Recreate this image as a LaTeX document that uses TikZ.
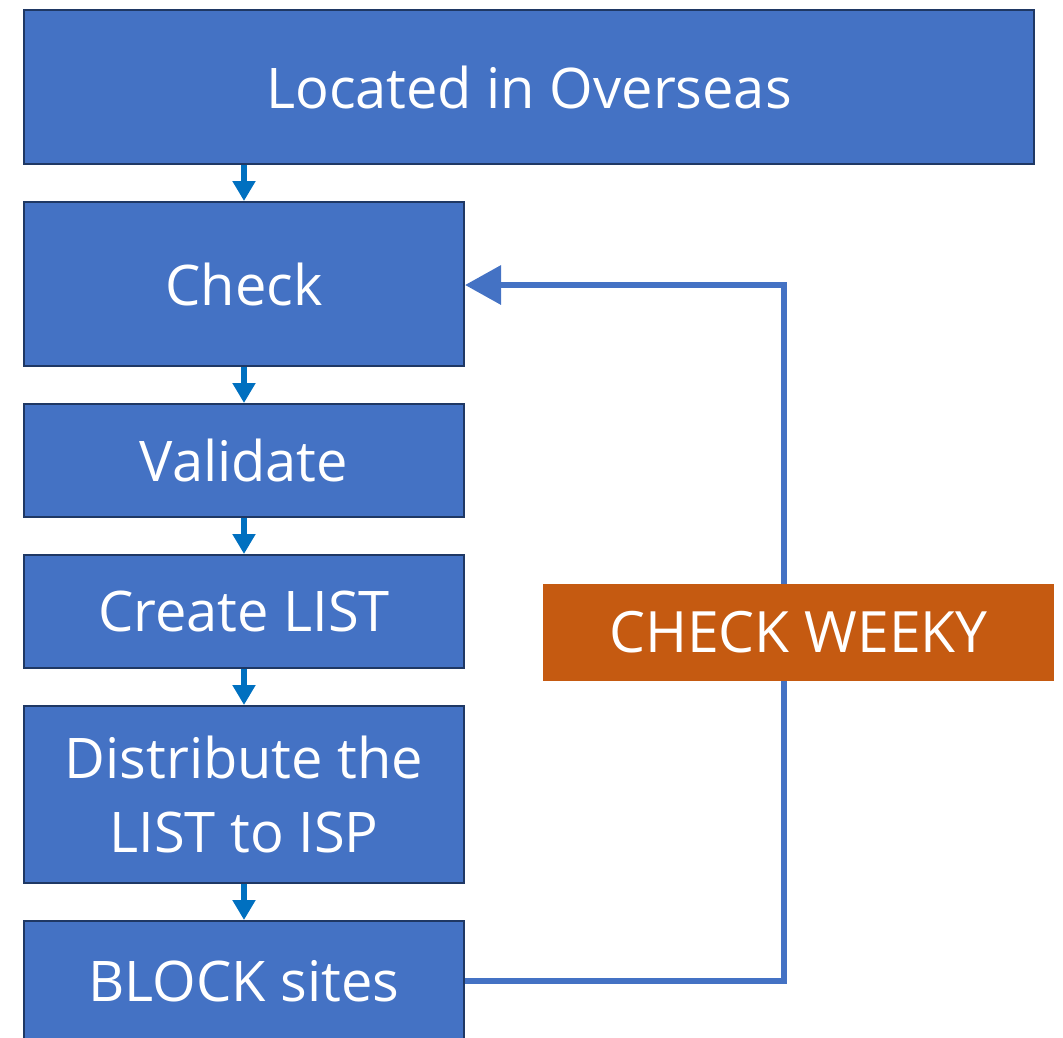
\documentclass[tikz,border=0pt]{standalone}
\usepackage{fontspec}
\setmainfont{Open Sans}
\usetikzlibrary{arrows.meta}
\definecolor{boxblue}{HTML}{4472C4}
\definecolor{boxedge}{HTML}{1F3864}
\definecolor{arrblue}{HTML}{0070C0}
\definecolor{orng}{HTML}{C55A11}
\tikzset{
  stepbox/.style={draw=boxedge, line width=2pt, fill=boxblue, text=white, inner sep=0pt, align=center, font=\fontsize{56}{74}\selectfont},
  downarr/.style={draw=arrblue, line width=6pt, -{Triangle[width=22pt,length=20pt]}},
  fb/.style={draw=boxblue, line width=6.5pt, -{Triangle[width=38pt,length=36pt]}},
  tag/.style={fill=orng, text=white, inner sep=0pt, font=\fontsize{57}{66}\selectfont}
}
\begin{document}
\begin{tikzpicture}[x=1pt,y=-1pt]
\useasboundingbox (0,0) rectangle (1063,1037);
\clip (0,0) rectangle (1063,1037);
\node[stepbox, minimum width=1010pt, minimum height=154pt] (top) at (529,87) {Located in Overseas};
\node[stepbox, minimum width=440pt, minimum height=164pt] (check) at (244,284) {Check};
\node[stepbox, minimum width=440pt, minimum height=113pt] (validate) at (244,460.5) {Validate};
\node[stepbox, minimum width=440pt, minimum height=113pt] (create) at (244,611.5) {Create LIST};
\node[stepbox, minimum width=440pt, minimum height=177pt] (distribute) at (244,794.5) {Distribute the\\LIST to ISP};
\node[stepbox, minimum width=440pt, minimum height=120pt] (block) at (244,981) {BLOCK sites};
\draw[downarr] (check.north |- top.south) -- (check.north);
\draw[downarr] (check.south) -- (validate.north);
\draw[downarr] (validate.south) -- (create.north);
\draw[downarr] (create.south) -- (distribute.north);
\draw[downarr] (distribute.south) -- (block.north);
\coordinate (c1) at (784,981);
\coordinate (c2) at (784,285);
\draw[fb] (block.east) -- (c1) -- (c2) -- (check.east |- c2);
\node[tag, minimum width=511pt, minimum height=97pt] (weekly) at (798.5,632.5) {CHECK WEEKY};
\end{tikzpicture}
\end{document}
